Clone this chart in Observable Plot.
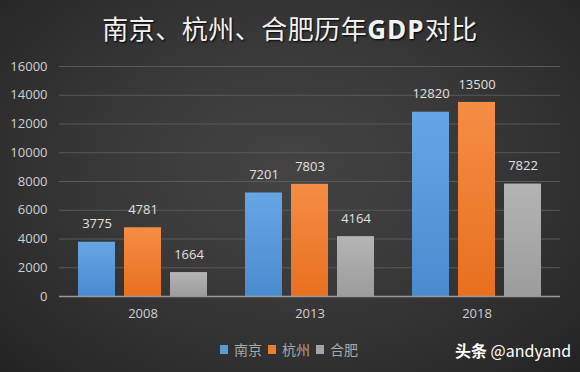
<!DOCTYPE html>
<html><head><meta charset="utf-8">
<script src="https://cdn.jsdelivr.net/npm/d3@7"></script>
<script src="https://cdn.jsdelivr.net/npm/@observablehq/plot@0.6"></script>
<style>
html,body{margin:0;padding:0;}
#wrap{position:relative;width:580px;height:372px;overflow:hidden;
 background:radial-gradient(ellipse at 50% 45%, #444 0%, #3a3a3a 40%, #2a2a2a 85%, #222 100%);
 font-family:"Noto Sans CJK SC","Noto Sans",sans-serif;}
#title{height:56px;line-height:56px;text-align:center;color:#f2f2f2;font-size:26px;font-weight:400;
 text-shadow:1px 1px 2px #000;letter-spacing:0.5px;}
#title b{font-family:"Open Sans","Noto Sans",sans-serif;font-weight:700;letter-spacing:1px;}
#legend{position:absolute;left:220px;top:339px;font-size:14px;color:#a8a8a8;display:flex;align-items:center;}
#legend span.sw{display:inline-block;width:8px;height:9px;margin-right:6px;}
#legend span.lb{margin-right:6px;}
#mark{position:absolute;left:455px;top:338px;font-size:16px;color:#fff;font-family:"Noto Sans CJK SC",Arial,sans-serif;}
</style></head>
<body><div id="wrap">
<div id="title">南京、杭州、合肥历年<b>GDP</b>对比</div>
<div id="chart"></div>
<div id="legend"></div>
<div id="mark"><b>头条</b> @andyand</div>
</div>
<script>
const years = ["2008", "2013", "2018"];
const cities = ["南京", "杭州", "合肥"];
const nanjing = [3775, 7201, 12820];
const hangzhou = [4781, 7803, 13500];
const hefei = [1664, 4164, 7822];
const yTicks = [0, 2000, 4000, 6000, 8000, 10000, 12000, 14000, 16000];
const colors = ["#5b9bd5", "#ed7d31", "#a5a5a5"];

const series = [nanjing, hangzhou, hefei];
const data = [];
years.forEach((y, i) => cities.forEach((c, j) => data.push({year: y, city: c, value: series[j][i]})));

const gradIds = ["gBlue", "gOrange", "gGray"];
const plot = Plot.plot({
  width: 580, height: 270,
  marginTop: 10, marginBottom: 30, marginLeft: 58, marginRight: 20,
  style: {background: "transparent", color: "#d0d0d0", fontSize: "13px", fontFamily: "'Open Sans','Noto Sans',sans-serif"},
  fx: {domain: years, padding: 0, label: null},
  x: {domain: cities, paddingInner: 0.19, paddingOuter: 0.4, axis: null},
  y: {domain: [0, 16000], label: null},
  color: {domain: cities, range: gradIds.map(d => `url(#${d})`)},
  marks: [
    Plot.gridY(yTicks, {stroke: "#5a5a5a", strokeOpacity: 1, strokeWidth: 1}),
    Plot.axisY(yTicks, {tickSize: 0, tickPadding: 12, label: null, fill: "#d0d0d0", fontSize: 13, tickFormat: d => String(d)}),
    Plot.axisFx({anchor: "bottom", tickSize: 0, tickPadding: 12, label: null, fill: "#cfcfcf", fontSize: 13}),
    Plot.barY(data, {fx: "year", x: "city", y: "value", fill: "city"}),
    Plot.ruleY([0], {stroke: "#9a9a9a", strokeWidth: 1.5}),
    Plot.text(data, {fx: "year", x: "city", y: "value", text: d => String(d.value), dy: -18, fill: "#e0e0e0", fontSize: 13})
  ]
});
const ns = "http://www.w3.org/2000/svg";
const defs = document.createElementNS(ns, "defs");
const stops = [["#66a6e4", "#4a8bd0"], ["#f58d45", "#e8701f"], ["#b4b4b4", "#9c9c9c"]];
gradIds.forEach((id, i) => {
  const g = document.createElementNS(ns, "linearGradient");
  g.setAttribute("id", id); g.setAttribute("x1", "0"); g.setAttribute("y1", "0"); g.setAttribute("x2", "0"); g.setAttribute("y2", "1");
  [[0, stops[i][0]], [1, stops[i][1]]].forEach(([o, c]) => {
    const s = document.createElementNS(ns, "stop");
    s.setAttribute("offset", o); s.setAttribute("stop-color", c);
    g.appendChild(s);
  });
  defs.appendChild(g);
});
plot.insertBefore(defs, plot.firstChild);
document.getElementById("chart").appendChild(plot);

const lg = document.getElementById("legend");
cities.forEach((c, i) => {
  const sw = document.createElement("span"); sw.className = "sw"; sw.style.background = colors[i];
  const lb = document.createElement("span"); lb.className = "lb"; lb.textContent = c;
  lg.appendChild(sw); lg.appendChild(lb);
});
</script>
</body></html>
